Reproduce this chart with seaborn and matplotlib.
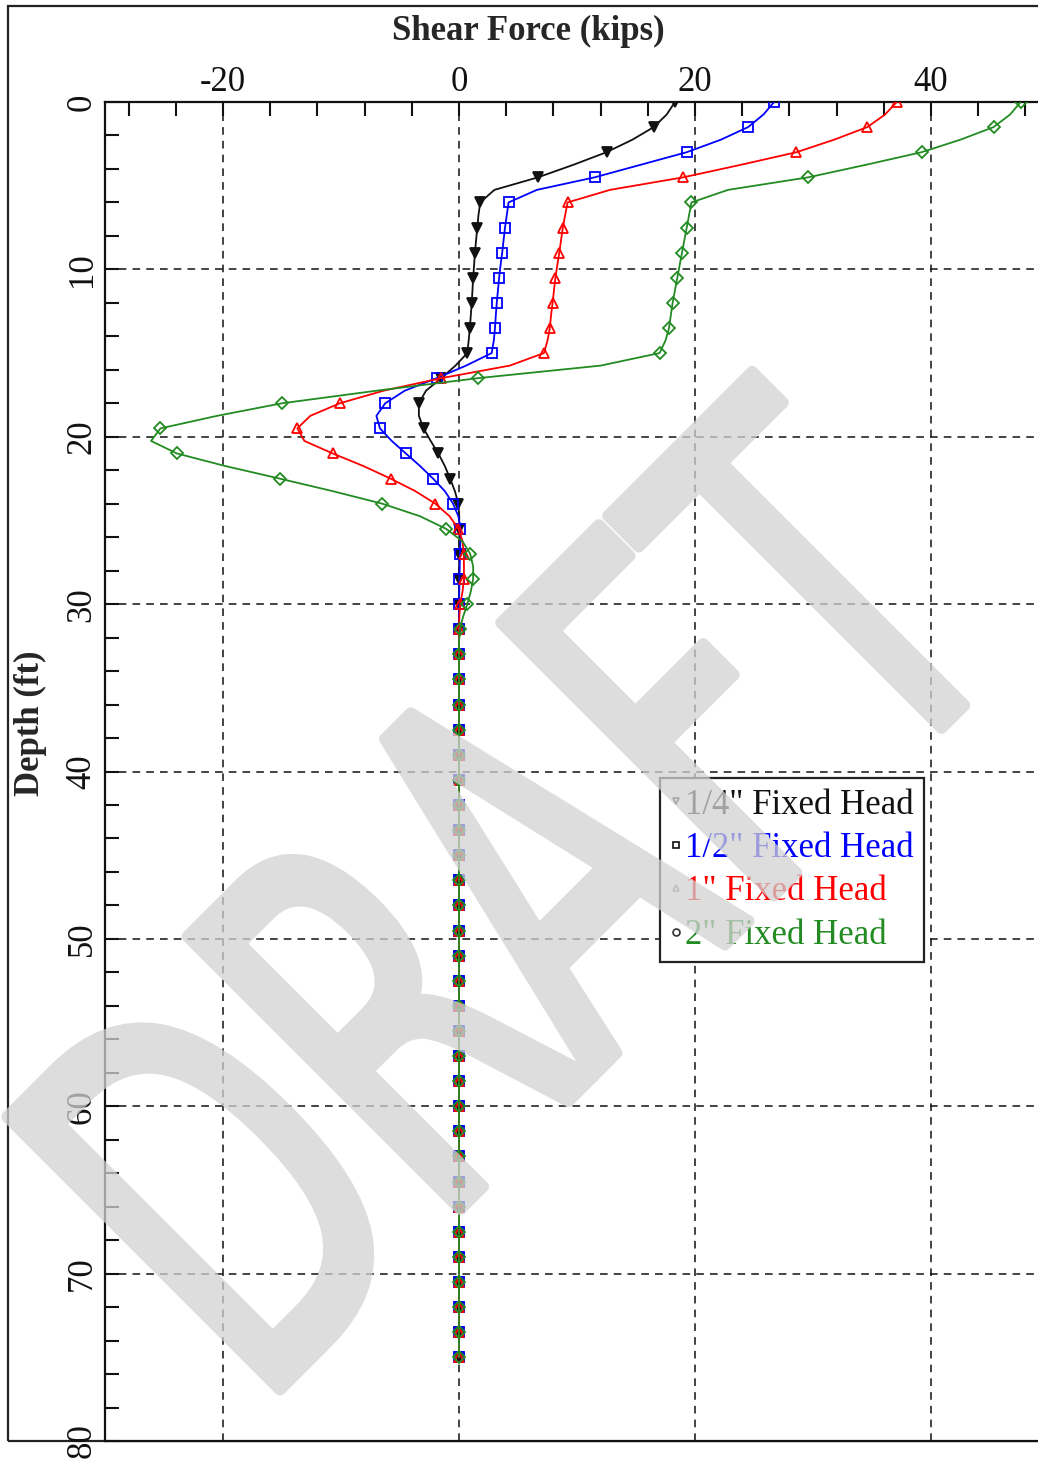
import numpy as np
import matplotlib
matplotlib.use("Agg")
import matplotlib.pyplot as plt
import seaborn as sns
from matplotlib.ticker import MultipleLocator
from matplotlib.lines import Line2D
from matplotlib.textpath import TextPath
from matplotlib.patches import PathPatch, Rectangle
from matplotlib.font_manager import FontProperties
from matplotlib.transforms import Affine2D

# ---------------------------------------------------------------- data
# Pile stations every 0.75 ft from the head (0 ft) to the tip (75 ft)
depth_ft = np.arange(0.0, 75.0 + 0.375, 0.75)

# Below about 32 ft the shear is zero for every case
zero_tail = [0.0] * 57

shear_quarter = [18.3, 17.6, 16.5, 14.7, 12.5, 9.7, 6.7, 3.0, 1.8, 1.65, 1.55,
                 1.45, 1.35, 1.28, 1.2, 1.14, 1.08, 1.0, 0.92, 0.82, 0.7, -0.3,
                 -1.5, -2.8, -3.4, -3.4, -3.0, -2.4, -1.75, -1.2, -0.75, -0.35,
                 -0.05, 0.02, 0.03, 0.03, 0.02, 0.01, 0.0, 0.0, 0.0, 0.0, 0.0,
                 0.0] + zero_tail
shear_half = [26.7, 25.8, 24.5, 22.2, 19.3, 15.4, 11.5, 6.6, 4.2, 4.05, 3.9,
              3.78, 3.66, 3.52, 3.4, 3.3, 3.2, 3.12, 3.05, 2.95, 2.77, 0.6,
              -1.9, -4.6, -6.25, -7.0, -6.7, -5.7, -4.5, -3.3, -2.2, -1.2,
              -0.5, -0.05, 0.12, 0.12, 0.08, 0.06, 0.04, 0.02, 0.0, 0.0, 0.0,
              0.0] + zero_tail
shear_one = [37.1, 36.1, 34.6, 31.8, 28.6, 23.9, 19.0, 12.8, 9.2, 9.0, 8.8,
             8.65, 8.5, 8.33, 8.17, 8.05, 7.93, 7.8, 7.7, 7.5, 7.2, 4.3, -1.5,
             -6.4, -10.1, -12.6, -13.7, -13.1, -10.7, -8.1, -5.8, -3.7, -2.0,
             -0.8, -0.05, 0.3, 0.4, 0.42, 0.42, 0.3, 0.1, 0.03, 0.0,
             0.0] + zero_tail
shear_two = [47.6, 46.7, 45.3, 42.5, 39.2, 34.5, 29.6, 22.8, 19.7, 19.5, 19.3,
             19.1, 18.9, 18.7, 18.5, 18.3, 18.1, 17.95, 17.8, 17.5, 17.0, 12.0,
             1.6, -7.0, -15.0, -20.5, -25.3, -26.1, -23.9, -19.8, -15.2,
             -10.7, -6.5, -3.3, -1.1, 0.3, 0.95, 1.2, 1.2, 1.0, 0.7, 0.35,
             0.08, 0.0] + zero_tail

series_labels = ['1/4" Fixed Head', '1/2" Fixed Head', '1" Fixed Head',
                 '2" Fixed Head']
series_values = [shear_quarter, shear_half, shear_one, shear_two]

# ---------------------------------------------------------------- style
sns.set_style("white")
plt.rcParams["font.family"] = ["Liberation Serif", "DejaVu Serif"]
plt.rcParams["axes.unicode_minus"] = False

line_colors = ["#111111", "#0000ff", "#ff0000", "#228b22"]
markers = ["v", "s", "^", "D"]
marker_sizes = [6.5, 6.5, 7.0, 6.5]
marker_faces = ["#111111", "none", "none", "none"]

W, H = 1038, 1459
fig = plt.figure(figsize=(W / 100, H / 100), dpi=100)
ax = fig.add_axes([105 / W, (H - 1441) / H, 944 / W, 1339 / H])

for vals, col, mk, ms, mfc, z in zip(series_values, line_colors, markers,
                                      marker_sizes, marker_faces, range(4)):
    sns.lineplot(x=vals, y=depth_ft, orient="y", sort=False, estimator=None,
                 ax=ax, color=col, linewidth=1.3, marker=mk, markevery=2,
                 markersize=ms, markerfacecolor=mfc, markeredgecolor=col,
                 markeredgewidth=1.3, zorder=3 + z)

# ---------------------------------------------------------------- axes
ax.set_xlim(-30, 50)
ax.set_ylim(80, 0)
ax.xaxis.tick_top()
ax.xaxis.set_label_position("top")
ax.xaxis.set_major_locator(MultipleLocator(20))
ax.xaxis.set_minor_locator(MultipleLocator(4))
ax.yaxis.set_major_locator(MultipleLocator(10))
ax.yaxis.set_minor_locator(MultipleLocator(2))
ax.tick_params(which="both", direction="in", length=10, width=1.5,
               top=True, bottom=False, left=True, right=False,
               labelsize=25, colors="#111111")
ax.tick_params(axis="x", pad=2)
ax.tick_params(axis="y", pad=4.5, labelrotation=90)

ax.grid(True, which="major", color="#111111", linestyle=(0, (5, 4)),
        linewidth=1.1)
ax.set_axisbelow(True)
for side, sp in ax.spines.items():
    sp.set_linewidth(1.6)
    sp.set_color("#111111")

ax.set_xlabel("Shear Force (kips)", fontsize=25, fontweight="bold",
              va="center")
ax.xaxis.set_label_coords(0.448, 1.0523)
ax.set_ylabel("Depth (ft)", fontsize=25, fontweight="bold", va="center")
ax.yaxis.set_label_coords(-0.079, 0.536)
plt.setp(ax.get_yticklabels(), va="center")

# ---------------------------------------------------------------- legend
legend_marker_edges = ["#333333", "#111111", "#888888", "#333333"]
legend_markers = ["v", "s", "^", "o"]
handles = [Line2D([], [], linestyle="none", marker=m, markersize=5,
                  markerfacecolor="white", markeredgecolor=e,
                  markeredgewidth=1.2)
           for m, e in zip(legend_markers, legend_marker_edges)]
leg = ax.legend(handles, series_labels, loc="upper left",
                bbox_to_anchor=(0.588, 0.495), frameon=True, fancybox=False,
                framealpha=1, edgecolor="#222222", fontsize=25,
                handlelength=0.3, handletextpad=0.12, borderpad=0.3,
                labelspacing=0.3, borderaxespad=0)
leg.get_frame().set_linewidth(1.6)
leg.set_zorder(10)
for txt, col in zip(leg.get_texts(), line_colors):
    txt.set_color(col)

# ---------------------------------------------------------------- outer frame
frame = Rectangle((8 / W, (H - 1441) / H), 1.05 - 8 / W, (1441 - 6) / H,
                  transform=fig.transFigure, fill=False, linewidth=1.6,
                  edgecolor="#222222", clip_on=False, zorder=0)
fig.add_artist(frame)


# ---------------------------------------------------------------- watermark
def fade(img, dpi):
    out = img.copy()
    out[..., 3] *= 0.75
    return out, 0, 0


wm_path = TextPath((0, 0), "DRAFT", size=530,
                   prop=FontProperties(family="DejaVu Sans"))
ext = wm_path.get_extents()
wm_tr = (Affine2D().translate(-ext.x0, -ext.y0).scale(0.625, 1.0)
         .rotate_deg(45).translate(280, H - 1390).scale(1 / W, 1 / H))
watermark = PathPatch(wm_tr.transform_path(wm_path), transform=fig.transFigure,
                      facecolor="#d2d2d2", edgecolor="#d2d2d2", linewidth=8,
                      joinstyle="round", capstyle="round", zorder=20)
watermark.set_agg_filter(fade)
fig.add_artist(watermark)

fig.savefig("out.png", dpi=100)
